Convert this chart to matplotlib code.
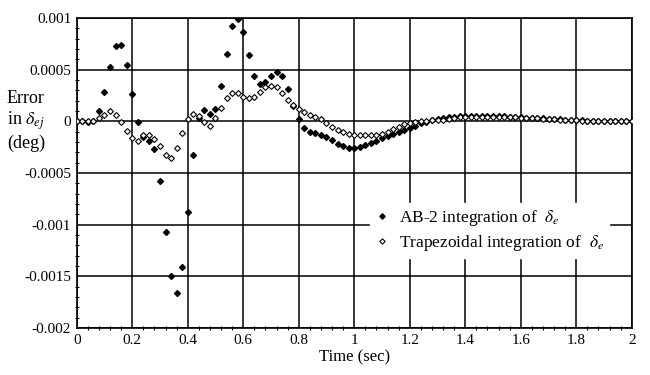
import matplotlib
matplotlib.use("Agg")
import matplotlib.pyplot as plt
import numpy as np

# %%
# data (error values in units of 1e-4 deg)
time = np.round(np.arange(101) * 0.02, 2)

ab2 = [0, 0, -0.1, 0, 1.0, 2.8, 5.3, 7.3, 7.4, 5.5,
       2.6, -0.1, -1.5, -1.9, -2.7, -5.8, -10.7, -15.0, -16.6, -14.1,
       -8.8, -3.3, 0.3, 1.1, 0.7, 1.2, 3.4, 6.5, 9.2, 9.9,
       8.6, 6.4, 4.4, 3.6, 3.8, 4.4, 4.8, 4.4, 3.1, 1.5,
       0.2, -0.6, -1.0, -1.1, -1.3, -1.5, -1.8, -2.2, -2.4, -2.6,
       -2.6, -2.5, -2.3, -2.1, -1.9, -1.6, -1.4, -1.2, -1.0, -0.8,
       -0.6, -0.4, -0.2, -0.1, 0.1, 0.2, 0.3, 0.4, 0.4, 0.5,
       0.5, 0.5, 0.5, 0.5, 0.5, 0.5, 0.5, 0.5, 0.4, 0.4,
       0.4, 0.3, 0.3, 0.3, 0.3, 0.2, 0.2, 0.2, 0.1, 0.1,
       0.1, 0.1, 0.0, 0.0, 0.0, 0.0, 0.0, 0.0, 0.0, 0.0, 0.0]

trap = [0, 0, 0, 0, 0.3, 0.6, 1.0, 0.6, -0.1, -0.9,
        -1.6, -1.9, -1.35, -1.3, -1.7, -2.4, -3.3, -3.5, -2.6, -1.1,
        0.2, 0.7, 0.5, -0.1, -0.4, 0.3, 1.3, 2.3, 2.7, 2.7,
        2.4, 2.3, 2.4, 2.8, 3.3, 3.4, 3.3, 2.7, 2.1, 1.6,
        1.2, 0.9, 0.6, 0.4, 0.2, -0.2, -0.5, -0.8, -1.0, -1.2,
        -1.3, -1.35, -1.35, -1.35, -1.3, -1.25, -1.0, -0.7, -0.5, -0.3,
        -0.2, -0.1, 0.0, 0.0, 0.1, 0.1, 0.15, 0.2, 0.3, 0.4,
        0.45, 0.45, 0.45, 0.45, 0.45, 0.45, 0.45, 0.45, 0.4, 0.4,
        0.35, 0.3, 0.3, 0.3, 0.25, 0.2, 0.2, 0.15, 0.1, 0.1,
        0.1, 0.05, 0.0, 0.0, 0.0, 0.0, 0.0, 0.0, 0.0, 0.0, 0.0]

ab2 = np.array(ab2) * 1e-4
trap = np.array(trap) * 1e-4

xticks = [0, 0.2, 0.4, 0.6, 0.8, 1, 1.2, 1.4, 1.6, 1.8, 2]
xlabels = ["0", "0.2", "0.4", "0.6", "0.8", "1", "1.2", "1.4", "1.6", "1.8", "2"]
yticks = [0.001, 0.0005, 0, -0.0005, -0.001, -0.0015, -0.002]
ylabels = ["0.001", "0.0005", "0", "-0.0005", "-0.001", "-0.0015", "-0.002"]

# %%
plt.rcParams['font.family'] = ['Liberation Serif', 'DejaVu Serif']
plt.rcParams['mathtext.fontset'] = 'stix'

fig = plt.figure(figsize=(6.5, 3.75), dpi=100)
ax = fig.add_axes([0.118, 0.125, 0.854, 0.827])

ax.plot(time, ab2, 'D', color='black', ms=3.0, ls='none',
        label=r"AB-2 integration of  $\delta_e$", zorder=3)
ax.plot(time, trap, 'D', mfc='white', mec='black', mew=0.8, ms=3.0, ls='none',
        label=r"Trapezoidal integration of  $\delta_e$", zorder=3)

ax.set_xlim(0, 2)
ax.set_ylim(-0.002, 0.001)
ax.set_xticks(xticks)
ax.set_xticklabels(xlabels, fontsize=11)
ax.set_yticks(yticks)
ax.set_yticklabels(ylabels, fontsize=11)
ax.set_xticks(np.arange(0, 2.001, 0.04), minor=True)
ax.set_yticks(np.arange(-0.002, 0.00101, 0.0001), minor=True)
ax.tick_params(which='major', length=0, pad=4)
ax.tick_params(which='minor', length=3, direction='inout', width=0.8)
ax.tick_params(axis='x', which='minor', top=False)
ax.tick_params(axis='y', which='minor', right=False)
ax.grid(True, which='major', color='black', lw=1.1)
for s in ax.spines.values():
    s.set_linewidth(1.2)

ax.set_xlabel("Time (sec)", fontsize=12, labelpad=2)
fig.text(7/650, 1 - 121/375, "Error\nin $\\delta_{ej}$\n(deg)", fontsize=13,
         ha='left', va='center', linespacing=1.15)

leg = ax.legend(loc='center left', bbox_to_anchor=(0.512, 0.315), fontsize=12.5,
                frameon=True, fancybox=False, edgecolor='white', framealpha=1,
                handlelength=0.8, handletextpad=0.6, borderpad=0.3,
                labelspacing=0.3, markerscale=0.9)

plt.savefig("out.png", dpi=100)
